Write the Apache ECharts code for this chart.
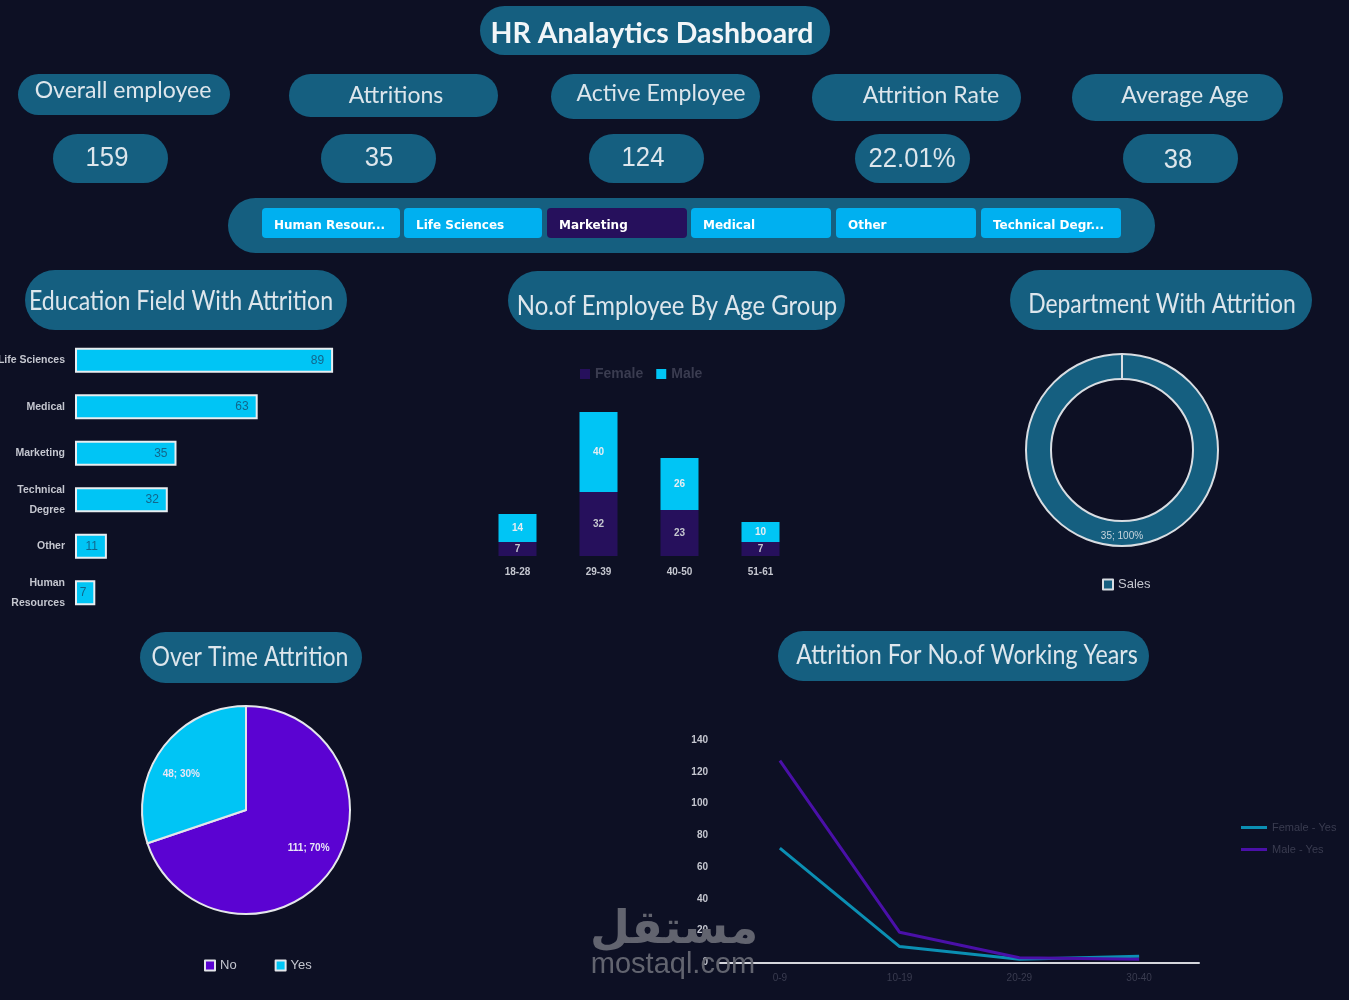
<!DOCTYPE html>
<html>
<head>
<meta charset="utf-8">
<title>HR Analaytics Dashboard</title>
<script src="https://cdn.jsdelivr.net/npm/echarts@6/dist/echarts.min.js"></script>
<style>
html, body { margin: 0; padding: 0; background: #0d1024; }
#main { width: 1349px; height: 1000px; }
</style>
</head>
<body>
<div id="main"></div>
<script>
// data
var kpiNames = [ 'Overall employee', 'Attritions', 'Active Employee', 'Attrition Rate', 'Average Age' ];
var kpiValues = [ '159', '35', '124', '22.01%', '38' ];
var slicerNames = [ 'Human Resour...', 'Life Sciences', 'Marketing', 'Medical', 'Other', 'Technical Degr...' ];
var sectionTitles = [ 'Education Field With Attrition', 'No.of Employee By Age Group', 'Department With Attrition', 'Over Time Attrition', 'Attrition For No.of Working Years' ];

var fieldNames = [ 'Life Sciences', 'Medical', 'Marketing', 'Technical\nDegree', 'Other', 'Human\nResources' ];
var fieldValues = [ 89, 63, 35, 32, 11, 7 ];

var ageGroups = [ '18-28', '29-39', '40-50', '51-61' ];
var ageFemale = [ 7, 32, 23, 7 ];
var ageMale = [ 14, 40, 26, 10 ];

var deptNames = [ 'Sales' ];
var deptValues = [ 35 ];

var overtimeNames = [ 'No', 'Yes' ];
var overtimeValues = [ 111, 48 ];

var yearGroups = [ '0-9', '10-19', '20-29', '30-40' ];
var yearsFemale = [ 72, 10, 2, 4 ];
var yearsMale = [ 127, 19, 3, 2 ];

// colours
var bg = '#0d1024', pill = '#155f80', pale = '#dde6ec', cyan = '#00c5f5', navy = '#26105c', violet = '#5b03d2';
var dim = '#3a3c50', tick = '#c4c6cf';

// layout of the pills: x, y, w, h, text x, text y
var kpiBoxes = [
  [ 18, 74, 212, 41, 123, 90 ],
  [ 289, 74, 209, 43, 396, 95 ],
  [ 551, 74, 209, 45, 661, 93 ],
  [ 812, 74, 209, 47, 931, 95 ],
  [ 1072, 74, 211, 47, 1185, 95 ]
];
var valueBoxes = [
  [ 53, 134, 115, 49, 107, 159 ],
  [ 321, 134, 115, 49, 379, 159 ],
  [ 589, 134, 115, 49, 643, 159 ],
  [ 855, 134, 115, 49, 912, 160 ],
  [ 1123, 134, 115, 49, 1178, 161 ]
];
var sectionBoxes = [
  [ 25, 270, 322, 60, 181, 302 ],
  [ 508, 271, 337, 59, 677, 307 ],
  [ 1010, 270, 302, 60, 1162, 305 ],
  [ 140, 632, 222, 51, 250, 658 ],
  [ 778, 631, 371, 50, 967, 656 ]
];
var sectionSqueeze = [ 0.89, 0.92, 0.88, 0.885, 0.895 ];
var slicerBoxes = [ [ 262, 138 ], [ 404, 138 ], [ 547, 140 ], [ 691, 140 ], [ 836, 140 ], [ 981, 140 ] ];
var donutCenter = [ 1122, 450 ], donutOuter = 96, donutInner = 71;

function pillShape( box, color ) {
  return {
    type: 'rect', z: 1,
    shape: { x: box[ 0 ], y: box[ 1 ], width: box[ 2 ], height: box[ 3 ], r: box[ 3 ] / 2 },
    style: { fill: color || pill }
  };
}

function pillText( box, text, font, squeeze ) {
  return {
    type: 'text', z: 2, x: box[ 4 ], y: box[ 5 ], scaleX: squeeze || 1,
    style: { x: 0, y: 0, text: text, font: font, fill: pale, align: 'center', verticalAlign: 'middle' }
  };
}

function buildGraphic() {
  var items = [];
  var i;

  var titleBox = [ 480, 6, 350, 49, 652, 34 ];
  items.push( pillShape( titleBox ) );
  items.push( {
    type: 'text', z: 2,
    style: { x: titleBox[ 4 ], y: titleBox[ 5 ], text: 'HR Analaytics Dashboard', font: 'bold 28.5px Lato', fill: '#f2f6f8', align: 'center', verticalAlign: 'middle' }
  } );

  for( i = 0; i < kpiNames.length; i++ ) {
    items.push( pillShape( kpiBoxes[ i ] ) );
    items.push( pillText( kpiBoxes[ i ], kpiNames[ i ], '24px Lato', 0.96 ) );
    items.push( pillShape( valueBoxes[ i ] ) );
    items.push( pillText( valueBoxes[ i ], kpiValues[ i ], '27px "Liberation Sans"', 0.95 ) );
  }

  // slicer panel
  items.push( pillShape( [ 228, 198, 927, 55 ] ) );
  for( i = 0; i < slicerNames.length; i++ ) {
    items.push( {
      type: 'rect', z: 2,
      shape: { x: slicerBoxes[ i ][ 0 ], y: 208, width: slicerBoxes[ i ][ 1 ], height: 30, r: 4 },
      style: { fill: i === 2 ? navy : '#00b0f0' }
    } );
    items.push( {
      type: 'text', z: 3,
      style: { x: slicerBoxes[ i ][ 0 ] + 12, y: 226, text: slicerNames[ i ], font: 'bold 12px "DejaVu Sans"', fill: '#ffffff', align: 'left', verticalAlign: 'middle' }
    } );
  }

  for( i = 0; i < sectionTitles.length; i++ ) {
    items.push( pillShape( sectionBoxes[ i ] ) );
    items.push( pillText( sectionBoxes[ i ], sectionTitles[ i ], '26px Lato', sectionSqueeze[ i ] ) );
  }

  // seam at the top of the full ring
  items.push( {
    type: 'line', z: 5,
    shape: { x1: donutCenter[ 0 ], y1: donutCenter[ 1 ] - donutOuter, x2: donutCenter[ 0 ], y2: donutCenter[ 1 ] - donutInner },
    style: { stroke: '#d8dde2', lineWidth: 2 }
  } );

  // watermark
  items.push( {
    type: 'text', z: 20,
    style: { x: 674, y: 931, text: 'مستقل', font: 'bold 46px "DejaVu Sans"', fill: '#62646f', align: 'center', verticalAlign: 'middle' }
  } );
  items.push( {
    type: 'text', z: 20,
    style: { x: 673, y: 965, text: 'mostaql.com', font: '29px "Liberation Sans"', fill: '#62646f', align: 'center', verticalAlign: 'middle' }
  } );
  return items;
}

var chart = echarts.init( document.getElementById( 'main' ) );

var option = {
  backgroundColor: bg,
  animation: false,
  graphic: { elements: buildGraphic() },
  legend: [
    {
      data: [ 'Female', 'Male' ], left: 575, top: 362, icon: 'rect', itemWidth: 10, itemHeight: 10, itemGap: 13,
      textStyle: { color: dim, fontSize: 14, fontFamily: 'Liberation Sans', fontWeight: 'bold' }
    },
    {
      data: deptNames, left: 1097, top: 573, icon: 'rect', itemWidth: 10, itemHeight: 10,
      textStyle: { color: tick, fontSize: 13, fontFamily: 'Liberation Sans' }
    },
    {
      data: overtimeNames, left: 199, top: 954, icon: 'rect', itemWidth: 10, itemHeight: 10, itemGap: 38,
      textStyle: { color: tick, fontSize: 13, fontFamily: 'Liberation Sans' }
    },
    {
      data: [ 'Female - Yes', 'Male - Yes' ], left: 1236, top: 817, orient: 'vertical', icon: 'rect', itemWidth: 26, itemHeight: 3, itemGap: 11,
      textStyle: { color: dim, fontSize: 11, fontFamily: 'Liberation Sans' }
    }
  ],
  grid: [
    { left: 75, top: 337, width: 290, height: 279, outerBoundsMode: 'none' },
    { left: 477, top: 396, width: 324, height: 160, outerBoundsMode: 'none' },
    { left: 720, top: 740, width: 479, height: 222.5, outerBoundsMode: 'none' }
  ],
  xAxis: [
    { gridIndex: 0, type: 'value', min: 0, max: 100, show: false },
    {
      gridIndex: 1, type: 'category', data: ageGroups,
      axisLine: { show: false }, axisTick: { show: false },
      axisLabel: { color: tick, fontSize: 10, fontWeight: 'bold', fontFamily: 'Liberation Sans', margin: 11 }
    },
    {
      gridIndex: 2, type: 'category', data: yearGroups,
      axisLine: { lineStyle: { color: '#d5d6dc', width: 2 } }, axisTick: { show: false },
      axisLabel: { color: dim, fontSize: 10, fontFamily: 'Liberation Sans', margin: 11 }
    }
  ],
  yAxis: [
    {
      gridIndex: 0, type: 'category', data: fieldNames, inverse: true,
      axisLine: { show: false }, axisTick: { show: false },
      axisLabel: { color: tick, fontSize: 10.5, fontWeight: 'bold', fontFamily: 'Liberation Sans', margin: 10, lineHeight: 20, align: 'right' }
    },
    { gridIndex: 1, type: 'value', min: 0, max: 80, show: false },
    {
      gridIndex: 2, type: 'value', min: 0, max: 140, interval: 20,
      axisLine: { show: false }, axisTick: { show: false }, splitLine: { show: false },
      axisLabel: { color: tick, fontSize: 10, fontWeight: 'bold', fontFamily: 'Liberation Sans', margin: 12 }
    }
  ],
  series: [
    {
      type: 'bar', xAxisIndex: 0, yAxisIndex: 0, data: fieldValues, barWidth: 25,
      itemStyle: { color: cyan, borderColor: '#e8edf0', borderWidth: 2 },
      label: { show: true, position: 'insideRight', distance: 9, color: '#11668c', fontSize: 12, fontFamily: 'Liberation Sans' }
    },
    {
      name: 'Female', type: 'bar', stack: 'age', xAxisIndex: 1, yAxisIndex: 1, data: ageFemale, barWidth: 38,
      itemStyle: { color: navy },
      label: { show: true, position: 'inside', color: tick, fontSize: 10, fontWeight: 'bold', fontFamily: 'Liberation Sans' }
    },
    {
      name: 'Male', type: 'bar', stack: 'age', xAxisIndex: 1, yAxisIndex: 1, data: ageMale, barWidth: 38,
      itemStyle: { color: cyan },
      label: { show: true, position: 'inside', color: '#e6edf2', fontSize: 10, fontWeight: 'bold', fontFamily: 'Liberation Sans' }
    },
    {
      type: 'pie', center: donutCenter, radius: [ donutInner, donutOuter ], startAngle: 90, clockwise: true,
      data: deptNames.map( function( name, i ) {
        return { name: name, value: deptValues[ i ] };
      } ),
      percentPrecision: 0,
      itemStyle: { color: pill, borderColor: '#d8dde2', borderWidth: 2 },
      label: { show: true, position: 'inside', formatter: '{c}; {d}%', color: '#c8d5dd', fontSize: 10, fontFamily: 'Liberation Sans' },
      labelLine: { show: false }, silent: true
    },
    {
      type: 'pie', center: [ 246, 810 ], radius: [ 0, 104 ], startAngle: 90, clockwise: true,
      data: overtimeNames.map( function( name, i ) {
        return { name: name, value: overtimeValues[ i ], itemStyle: { color: i === 0 ? violet : cyan } };
      } ),
      percentPrecision: 0,
      itemStyle: { borderColor: '#e4e6ea', borderWidth: 2 },
      label: { show: true, position: 'inside', formatter: '{c}; {d}%', color: '#e8e6f5', fontSize: 10, fontWeight: 'bold', fontFamily: 'Liberation Sans' },
      labelLine: { show: false }, silent: true,
      labelLayout: function( params ) {
        return params.dataIndex === 0 ? { dx: 18, dy: 6 } : { dx: -20, dy: -4 };
      }
    },
    {
      name: 'Female - Yes', type: 'line', xAxisIndex: 2, yAxisIndex: 2, data: yearsFemale, symbol: 'none',
      itemStyle: { color: '#0b8fb3' }, lineStyle: { color: '#0b8fb3', width: 3 }
    },
    {
      name: 'Male - Yes', type: 'line', xAxisIndex: 2, yAxisIndex: 2, data: yearsMale, symbol: 'none',
      itemStyle: { color: '#4a10a8' }, lineStyle: { color: '#4a10a8', width: 3 }
    }
  ]
};

chart.setOption( option );
</script>
</body>
</html>
